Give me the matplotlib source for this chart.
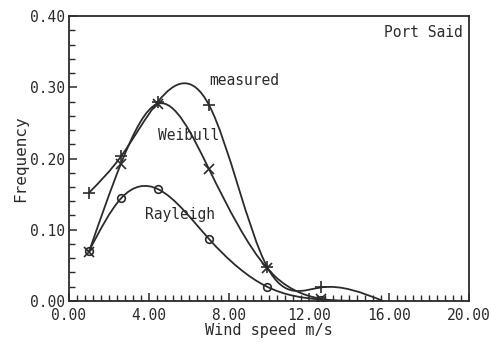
import numpy as np
import matplotlib.pyplot as plt
from matplotlib.path import Path
from matplotlib.patches import PathPatch
from matplotlib.ticker import MultipleLocator

# wind speed bins (m/s) and frequency values
speed = [1.0, 2.6, 4.45, 7.0, 9.9, 12.6, 15.7]
measured = [0.152, 0.203, 0.280, 0.275, 0.048, 0.019, 0.0]
weibull = [0.069, 0.193, 0.277, 0.185, 0.046, 0.003, 0.0]
rayleigh = [0.070, 0.144, 0.157, 0.087, 0.020, 0.002, 0.0]

xticks = [0, 4, 8, 12, 16, 20]
yticks = [0.0, 0.1, 0.2, 0.3, 0.4]

ink = '#2b2b2b'
font = 'DejaVu Sans Mono'


def spline_path(x, y):
    """Natural cubic spline through the points, as a chain of bezier segments."""
    x = np.asarray(x, float)
    y = np.asarray(y, float)
    n = len(x)
    h = np.diff(x)
    A = np.zeros((n, n))
    r = np.zeros(n)
    A[0, 0] = A[-1, -1] = 1.0
    for i in range(1, n - 1):
        A[i, i - 1] = h[i - 1]
        A[i, i] = 2 * (h[i - 1] + h[i])
        A[i, i + 1] = h[i]
        r[i] = 6 * ((y[i + 1] - y[i]) / h[i] - (y[i] - y[i - 1]) / h[i - 1])
    M = np.linalg.solve(A, r)
    verts = [(x[0], y[0])]
    codes = [Path.MOVETO]
    for i in range(n - 1):
        s = (y[i + 1] - y[i]) / h[i]
        d0 = s - h[i] * (2 * M[i] + M[i + 1]) / 6
        d1 = s + h[i] * (M[i] + 2 * M[i + 1]) / 6
        verts += [(x[i] + h[i] / 3, y[i] + d0 * h[i] / 3),
                  (x[i + 1] - h[i] / 3, y[i + 1] - d1 * h[i] / 3),
                  (x[i + 1], y[i + 1])]
        codes += [Path.CURVE4] * 3
    return Path(verts, codes)


fig = plt.figure(figsize=(4.91, 3.42), dpi=100)
ax = fig.add_axes([0.1405, 0.12, 0.815, 0.833])

for series, mk, ms in [(measured, '+', 8), (weibull, 'x', 6.5), (rayleigh, 'o', 5.5)]:
    ax.add_patch(PathPatch(spline_path(speed, series), fill=False,
                           edgecolor=ink, linewidth=1.3))
    ax.plot(speed[:-1], series[:-1], linestyle='none', marker=mk, markersize=ms,
            markeredgewidth=1.2, markeredgecolor=ink, markerfacecolor='none')

ax.set_xlim(0, 20)
ax.set_ylim(0, 0.4)
ax.set_xticks(xticks)
ax.set_yticks(yticks)
ax.set_xticklabels([f'{v:.2f}' for v in xticks], family=font, fontsize=10.5, color=ink)
ax.set_yticklabels([f'{v:.2f}' for v in yticks], family=font, fontsize=10.5, color=ink)
ax.xaxis.set_minor_locator(MultipleLocator(0.4))
ax.yaxis.set_minor_locator(MultipleLocator(0.02))
ax.tick_params(which='both', direction='in', color=ink, top=False, right=False)
ax.tick_params(which='major', length=6, width=1.1)
ax.tick_params(which='minor', length=4, width=1.0)
ax.tick_params(axis='x', which='major', pad=5)
ax.tick_params(axis='y', which='major', pad=3)
for sp in ax.spines.values():
    sp.set_color(ink)
    sp.set_linewidth(1.3)

ax.set_xlabel('Wind speed m/s', family=font, fontsize=11, color=ink, labelpad=0)
ax.set_ylabel('Frequency', family=font, fontsize=11.5, color=ink, labelpad=1)

ax.text(7.0, 0.31, 'measured', family=font, fontsize=10.5, color=ink, va='center')
ax.text(4.45, 0.232, 'Weibull', family=font, fontsize=10.5, color=ink, va='center')
ax.text(3.8, 0.121, 'Rayleigh', family=font, fontsize=10.5, color=ink, va='center')
ax.text(19.7, 0.377, 'Port Said', family=font, fontsize=10.5, color=ink,
        va='center', ha='right')

fig.savefig('out.png', dpi=100)
